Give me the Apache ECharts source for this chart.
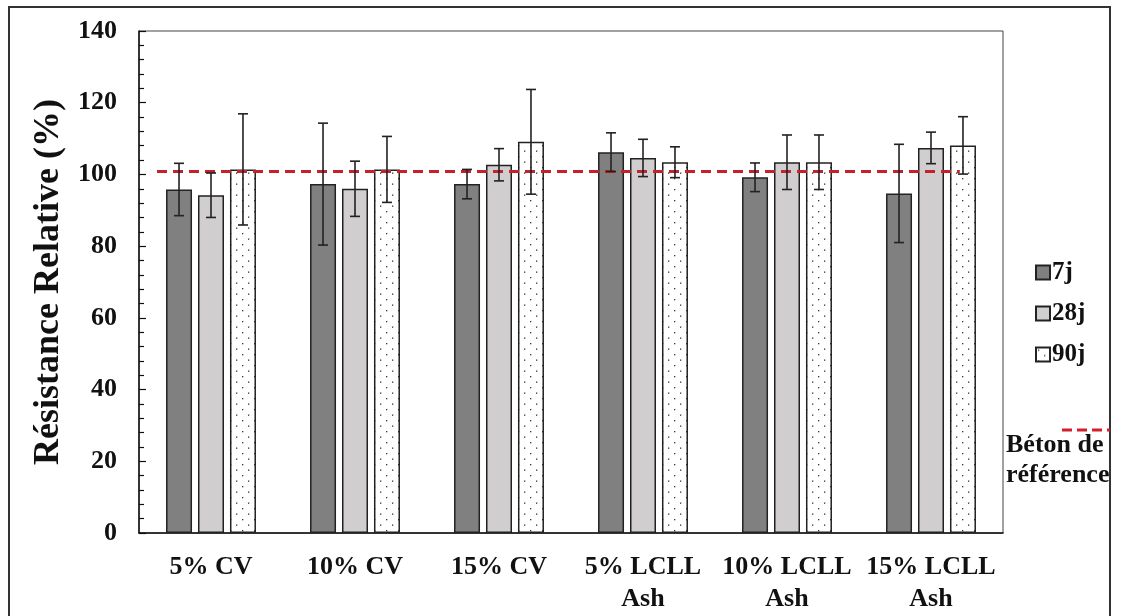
<!DOCTYPE html>
<html>
<head>
<meta charset="utf-8">
<script src="https://cdn.jsdelivr.net/npm/echarts@6/dist/echarts.min.js"></script>
<style>
  html, body { margin: 0; padding: 0; background: #fff; }
  #chart { width: 1121px; height: 616px; }
</style>
</head>
<body>
<div id="chart"></div>
<script>
// Mix designs and curing ages
const categories = ['5% CV', '10% CV', '15% CV', '5% LCLL\nAsh', '10% LCLL\nAsh', '15% LCLL\nAsh'];
const seriesNames = ['7j', '28j', '90j'];

// Relative strength (%) and standard deviation for each age
const values7j  = [95.8, 97.3, 97.3, 106.2, 99.2, 94.7];
const values28j = [94.2, 96.0, 102.7, 104.6, 103.4, 107.4];
const values90j = [101.4, 101.4, 109.1, 103.4, 103.4, 108.1];
const err7j  = [7.3, 17.0, 4.1, 5.4, 4.0, 13.7];
const err28j = [6.2, 7.7, 4.5, 5.2, 7.6, 4.4];
const err90j = [15.5, 9.2, 14.6, 4.3, 7.6, 8.0];

// Reference concrete level and the span of its dashed line (in category units)
const referenceLevel = 100.8;
const referenceSpan = [0.125, 5.70];

const yTicks = { min: 0, max: 140, interval: 20 };

const FONT = "'Liberation Serif', 'Times New Roman', serif";
const BAR_W = 26;
const BAR_GAP = 0.23;
const STEP = BAR_W * (1 + BAR_GAP);

// dotted fill for the 90-day bars
function dotPattern() {
  const c = document.createElement('canvas');
  c.width = 12; c.height = 11;
  const g = c.getContext('2d');
  g.fillStyle = '#ffffff';
  g.fillRect(0, 0, 12, 11);
  g.fillStyle = '#333333';
  g.fillRect(2, 2, 1.3, 1.3);
  g.fillRect(8, 7.5, 1.3, 1.3);
  return { image: c, repeat: 'repeat' };
}

const fills = ['#808080', '#d0cece', dotPattern()];
const valueSets = [values7j, values28j, values90j];
const errSets = [err7j, err28j, err90j];

const barSeries = seriesNames.map((name, i) => ({
  name: name,
  type: 'bar',
  barWidth: BAR_W,
  barGap: (BAR_GAP * 100) + '%',
  data: valueSets[i],
  itemStyle: { color: fills[i], borderColor: '#222', borderWidth: 1.5 },
  z: 2
}));

const errorSeries = seriesNames.map((name, i) => ({
  type: 'custom',
  name: name + ' err',
  z: 5,
  silent: true,
  data: valueSets[i].map((v, k) => [k, v, errSets[i][k]]),
  renderItem: function (params, api) {
    const idx = api.value(0), v = api.value(1), e = api.value(2);
    const off = (i - 1) * STEP;
    const top = api.coord([idx, v + e]);
    const bot = api.coord([idx, v - e]);
    const x = top[0] + off;
    const cap = 5;
    const style = { stroke: '#222', lineWidth: 1.6 };
    return {
      type: 'group',
      children: [
        { type: 'line', shape: { x1: x, y1: top[1], x2: x, y2: bot[1] }, style: style },
        { type: 'line', shape: { x1: x - cap, y1: top[1], x2: x + cap, y2: top[1] }, style: style },
        { type: 'line', shape: { x1: x - cap, y1: bot[1], x2: x + cap, y2: bot[1] }, style: style }
      ]
    };
  }
}));

const refSeries = {
  type: 'line',
  name: 'Béton de référence',
  xAxisIndex: 1,
  data: [[referenceSpan[0], referenceLevel], [referenceSpan[1], referenceLevel]],
  symbol: 'none',
  silent: true,
  lineStyle: { color: '#c42229', width: 3, type: [10, 6] },
  z: 4
};

const chart = echarts.init(document.getElementById('chart'));
chart.setOption({
  animation: false,
  backgroundColor: '#ffffff',
  grid: { left: 139, top: 31, width: 864, height: 502, show: true, borderColor: '#444', borderWidth: 1 },
  legend: {
    data: seriesNames,
    orient: 'vertical',
    left: 1035,
    top: 260,
    padding: 0,
    icon: 'rect',
    itemWidth: 14,
    itemHeight: 14,
    itemGap: 16,
    textStyle: { fontFamily: FONT, fontWeight: 'bold', fontSize: 25, color: '#111', padding: [0, 0, 0, -3] }
  },
  xAxis: [
    {
      type: 'category',
      data: categories,
      axisTick: { show: false },
      axisLine: { lineStyle: { color: '#111', width: 1.5 } },
      axisLabel: { interval: 0, margin: 18, fontFamily: FONT, fontWeight: 'bold', fontSize: 26, lineHeight: 32, color: '#111' }
    },
    { type: 'value', min: 0, max: categories.length, show: false }
  ],
  yAxis: {
    type: 'value',
    min: yTicks.min,
    max: yTicks.max,
    interval: yTicks.interval,
    name: 'Résistance Relative (%)',
    nameLocation: 'middle',
    nameGap: 66,
    nameTextStyle: { fontFamily: FONT, fontWeight: 'bold', fontSize: 36, color: '#111' },
    axisLine: { show: true, lineStyle: { color: '#111', width: 1.5 } },
    axisTick: { show: true, inside: true, length: 7, lineStyle: { color: '#111', width: 1.2 } },
    minorTick: { show: true, splitNumber: 5, length: 5, lineStyle: { color: '#111', width: 1.2 } },
    splitLine: { show: false },
    axisLabel: { margin: 22, fontFamily: FONT, fontWeight: 'bold', fontSize: 26, color: '#111' }
  },
  graphic: [
    { type: 'rect', shape: { x: 9, y: 7, width: 1101, height: 640 }, style: { fill: 'none', stroke: '#333', lineWidth: 2 }, silent: true },
    { type: 'line', shape: { x1: 1062, y1: 430, x2: 1110, y2: 430 }, style: { stroke: '#d0202a', lineWidth: 3, lineDash: [10, 5] }, silent: true },
    { type: 'text', left: 1006, top: 432, style: { text: 'Béton de', font: "bold 26px " + FONT, fill: '#111' }, silent: true },
    { type: 'text', left: 1006, top: 462, style: { text: 'référence', font: "bold 26px " + FONT, fill: '#111' }, silent: true }
  ],
  series: [...barSeries, refSeries, ...errorSeries]
});
</script>
</body>
</html>
